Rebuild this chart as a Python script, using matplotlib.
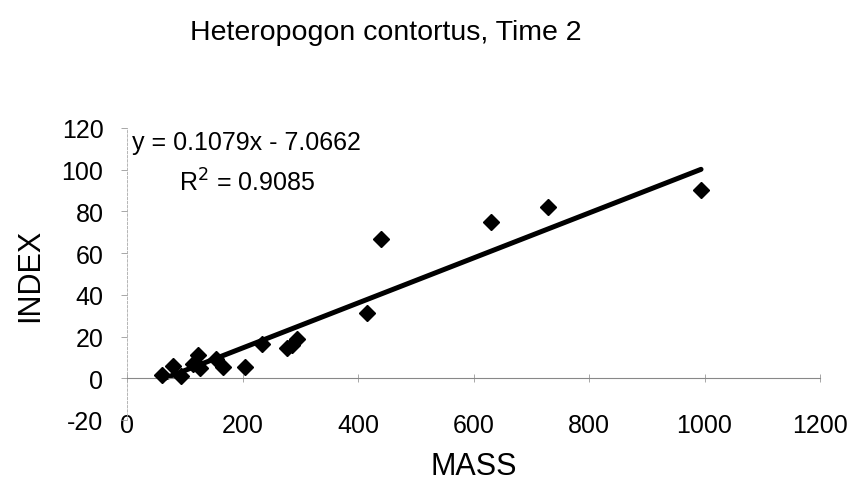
import matplotlib
matplotlib.use("Agg")
import matplotlib.pyplot as plt
import numpy as np

plt.rcParams['font.family'] = ['Liberation Sans', 'DejaVu Sans']
plt.rcParams['axes.unicode_minus'] = False

# valores
masa = [60, 80, 94, 114, 123, 126, 154, 166, 204, 234, 277, 286, 295, 416, 440, 631, 729, 994]
indice = [1.4, 5.9, 1.0, 6.7, 11.0, 4.8, 9.1, 5.4, 5.3, 16.3, 14.4, 15.8, 19.0, 31.2, 66.8, 74.9, 82.0, 90.3]

pendiente = 0.1079
intercepto = -7.0662
r2 = 0.9085

x_ticks = [0, 200, 400, 600, 800, 1000, 1200]
y_ticks = [-20, 0, 20, 40, 60, 80, 100, 120]

fig = plt.figure(figsize=(8.52, 4.85), dpi=100)
ax = fig.add_axes([127 / 852, 1 - 421 / 485, 693 / 852, 292 / 485])

# linea de tendencia sobre el rango de los datos
xs = np.array([min(masa), max(masa)])
ax.plot(xs, pendiente * xs + intercepto, color='black', linewidth=3.6,
        solid_capstyle='round', zorder=2)
ax.plot(masa, indice, linestyle='none', marker='D', markersize=8.5,
        color='black', zorder=3)

ax.set_xlim(0, 1200)
ax.set_ylim(-20, 120)
ax.set_xticks(x_ticks)
ax.set_yticks(y_ticks)

for s in ['top', 'right']:
    ax.spines[s].set_visible(False)
ax.spines['bottom'].set_position(('data', 0))
ax.spines['bottom'].set_color('#888888')
ax.spines['bottom'].set_linewidth(0.8)
ax.spines['left'].set_color('#aaaaaa')
ax.spines['left'].set_linewidth(0.6)
ax.spines['left'].set_linestyle((0, (3, 2)))

ax.tick_params(axis='y', direction='out', length=4, width=0.6, color='#999999',
               labelsize=18, pad=13)
ax.tick_params(axis='x', direction='inout', length=6, width=0.6, color='#999999',
               labelsize=18, pad=22)

ax.set_xlabel('MASS', fontsize=22, labelpad=10)
ax.set_ylabel('INDEX', fontsize=22, labelpad=12)

# texto de la ecuacion de la tendencia
ax.text(0.173, 0.952, f'y = {pendiente}x - {abs(intercepto)}', fontsize=18,
        ha='center', va='center', transform=ax.transAxes)
ax.text(0.173, 0.815, f'R$^2$ = {r2}', fontsize=18, ha='center', va='center',
        transform=ax.transAxes)

fig.text(386 / 852, 1 - 33 / 485, 'Heteropogon contortus, Time 2', fontsize=20.5,
         ha='center', va='center')

fig.savefig('out.png', dpi=100)
